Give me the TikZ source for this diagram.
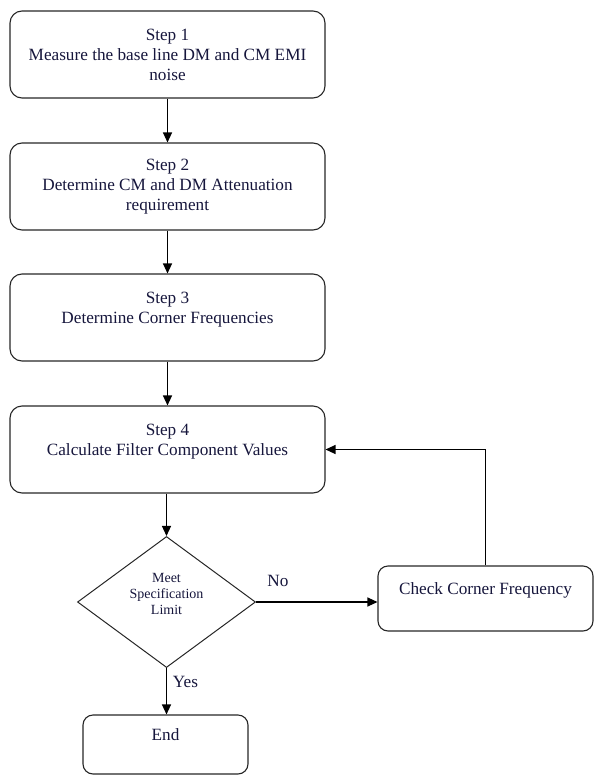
\documentclass[tikz,border=0pt]{standalone}
\usepackage{fontspec}
\setmainfont{Liberation Serif}
\usetikzlibrary{shapes.geometric,arrows.meta}

\begin{document}
\begin{tikzpicture}[x=1pt,y=-1pt,
    stepbox/.style={draw=black!85, line width=1.1pt, rounded corners=12pt,
      minimum width=315pt, minimum height=87pt, inner sep=0pt, align=center,
      text=textcol, font=\fontsize{17.2}{20}\selectfont},
    decbox/.style={draw=black!85, line width=1pt, diamond, inner sep=0pt,
      minimum width=178pt, minimum height=131pt, align=center,
      text=textcol, font=\fontsize{14}{16}\selectfont},
    lab/.style={text=textcol, font=\fontsize{17.2}{20}\selectfont},
    arr/.style={line width=1.2pt, -{Triangle[length=10pt,width=9pt]}}]

      \definecolor{textcol}{RGB}{22,22,60}
      \useasboundingbox (0,0) rectangle (594,776);

      % Steps
      \node[stepbox] (s1) at (167.5,54.5) {Step 1\\Measure the base line DM and CM EMI\\noise};
      \node[stepbox] (s2) at (167.5,186.5) {Step 2\\Determine CM and DM Attenuation\\requirement};
      \node[stepbox] (s3) at (167.5,317.5) {Step 3\\Determine Corner Frequencies\\\mbox{}};
      \node[stepbox] (s4) at (167.5,449.5) {Step 4\\Calculate Filter Component Values\\\mbox{}};

      % Decision
      \node[decbox] (dec) at (166.5,602) {Meet\\Specification\\Limit\\\mbox{}};
      \node[stepbox, minimum width=215pt, minimum height=65pt, rounded corners=10pt]
        (chk) at (485.5,598.5) {Check Corner Frequency\\\mbox{}};
      \node[stepbox, minimum width=165pt, minimum height=59pt, rounded corners=10pt]
        (end) at (165.5,744.5) {End\\\mbox{}};

      % Flow
      \draw[arr] (s1) -- (s2);
      \draw[arr] (s2) -- (s3);
      \draw[arr] (s3) -- (s4);
      \draw[arr] (s4.south -| dec.north) -- (dec.north);
      \draw[arr] (dec.east) -- node[lab, pos=0.18, yshift=21pt] {No} (dec.east -| chk.west);
      \draw[arr] (dec.south) -- node[lab, pos=0.3, xshift=19pt] {Yes} (dec.south |- end.north);
      \draw[arr] (chk.north) |- (s4.east);

\end{tikzpicture}
\end{document}
